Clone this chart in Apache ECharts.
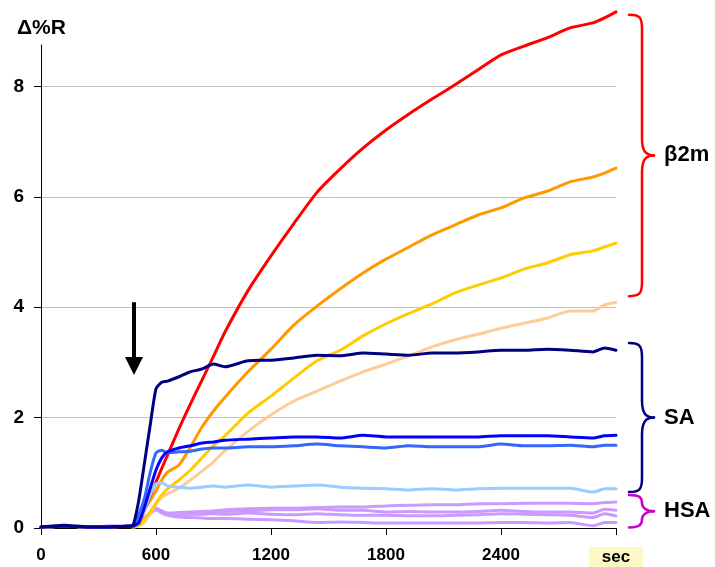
<!DOCTYPE html>
<html>
<head>
<meta charset="utf-8">
<script src="https://cdn.jsdelivr.net/npm/echarts@6/dist/echarts.min.js"></script>
<style>
  html, body { margin: 0; padding: 0; background: #fff; }
  #chart { width: 715px; height: 567px; }
</style>
</head>
<body>
<div id="chart"></div>
<script>
// Time points (s)
const times = [0, 120, 240, 360, 450, 480, 510, 540, 570, 600, 630, 660, 720, 780, 840, 900, 960,
  1080, 1200, 1320, 1440, 1560, 1680, 1800, 1920, 2040, 2160, 2280, 2400, 2520, 2640, 2760, 2880, 2940, 3000];

// Tick labels along the time axis (the last one stands for the unit)
const xTickValues = [0, 600, 1200, 1800, 2400, 3000];
const xTickLabels = ['0', '600', '1200', '1800', '2400', 'sec'];
const yTickValues = [0, 2, 4, 6, 8];

// β2m responses
const b2mA = [0.02, 0.03, 0.02, 0.02, 0.03, 0.05, 0.08, 0.33, 0.58, 0.83, 1.08, 1.32, 1.80, 2.25, 2.68, 3.11, 3.55,
  4.30, 4.93, 5.52, 6.08, 6.50, 6.88, 7.21, 7.50, 7.77, 8.03, 8.30, 8.57, 8.73, 8.88, 9.06, 9.15, 9.24, 9.35];
const b2mB = [0.02, 0.03, 0.02, 0.02, 0.03, 0.03, 0.10, 0.33, 0.50, 0.67, 0.87, 1.01, 1.14, 1.47, 1.83, 2.12, 2.37,
  2.83, 3.24, 3.68, 4.02, 4.33, 4.62, 4.87, 5.09, 5.31, 5.49, 5.67, 5.80, 5.98, 6.10, 6.27, 6.36, 6.43, 6.52];
const b2mC = [0.02, 0.03, 0.02, 0.02, 0.03, 0.02, 0.05, 0.15, 0.29, 0.45, 0.60, 0.71, 0.87, 1.05, 1.27, 1.49, 1.67,
  2.08, 2.39, 2.72, 3.03, 3.22, 3.48, 3.70, 3.89, 4.06, 4.26, 4.40, 4.53, 4.69, 4.80, 4.95, 5.02, 5.09, 5.16];
const b2mD = [0.02, 0.03, 0.02, 0.02, 0.03, 0.02, 0.04, 0.10, 0.27, 0.43, 0.56, 0.62, 0.72, 0.87, 1.03, 1.20, 1.40,
  1.75, 2.05, 2.30, 2.48, 2.66, 2.83, 2.97, 3.12, 3.28, 3.41, 3.51, 3.62, 3.71, 3.80, 3.93, 3.93, 4.04, 4.09];

// SA responses
const saA = [0.02, 0.05, 0.02, 0.02, 0.03, 0.05, 0.50, 1.18, 1.87, 2.52, 2.64, 2.66, 2.74, 2.83, 2.88, 2.97, 2.92,
  3.03, 3.04, 3.08, 3.13, 3.12, 3.17, 3.15, 3.13, 3.17, 3.17, 3.19, 3.22, 3.22, 3.24, 3.22, 3.19, 3.26, 3.22];
const saB = [0.02, 0.03, 0.02, 0.02, 0.03, 0.03, 0.10, 0.38, 0.72, 1.05, 1.27, 1.38, 1.45, 1.49, 1.54, 1.56, 1.59,
  1.61, 1.63, 1.65, 1.65, 1.63, 1.68, 1.65, 1.65, 1.65, 1.65, 1.65, 1.67, 1.67, 1.67, 1.65, 1.63, 1.67, 1.68];
const saC = [0.02, 0.03, 0.02, 0.02, 0.03, 0.03, 0.24, 0.54, 1.01, 1.36, 1.41, 1.36, 1.38, 1.39, 1.43, 1.45, 1.45,
  1.47, 1.47, 1.49, 1.52, 1.49, 1.47, 1.45, 1.49, 1.47, 1.47, 1.47, 1.52, 1.49, 1.49, 1.50, 1.47, 1.50, 1.50];
const saD = [0.02, 0.03, 0.02, 0.02, 0.03, 0.03, 0.10, 0.33, 0.60, 0.80, 0.82, 0.76, 0.74, 0.72, 0.74, 0.76, 0.74,
  0.78, 0.74, 0.76, 0.78, 0.74, 0.72, 0.71, 0.69, 0.71, 0.69, 0.71, 0.72, 0.72, 0.72, 0.72, 0.65, 0.71, 0.71];

// HSA responses
const hsaA = [0.02, 0.03, 0.02, 0.03, 0.03, 0.04, 0.08, 0.18, 0.28, 0.36, 0.31, 0.27, 0.28, 0.29, 0.30, 0.31, 0.33,
  0.35, 0.36, 0.36, 0.37, 0.38, 0.38, 0.40, 0.41, 0.42, 0.42, 0.44, 0.44, 0.45, 0.45, 0.45, 0.44, 0.46, 0.47];
const hsaB = [0.02, 0.03, 0.02, 0.03, 0.03, 0.04, 0.08, 0.18, 0.28, 0.35, 0.30, 0.26, 0.27, 0.28, 0.29, 0.28, 0.30,
  0.31, 0.33, 0.33, 0.35, 0.32, 0.32, 0.29, 0.30, 0.29, 0.29, 0.30, 0.32, 0.30, 0.29, 0.29, 0.27, 0.34, 0.32];
const hsaC = [0.02, 0.03, 0.02, 0.03, 0.03, 0.04, 0.08, 0.17, 0.27, 0.34, 0.29, 0.25, 0.24, 0.25, 0.25, 0.26, 0.25,
  0.27, 0.25, 0.24, 0.26, 0.24, 0.23, 0.23, 0.22, 0.22, 0.23, 0.24, 0.26, 0.25, 0.24, 0.23, 0.19, 0.26, 0.22];
const hsaD = [0.02, 0.03, 0.02, 0.03, 0.03, 0.04, 0.07, 0.16, 0.26, 0.33, 0.27, 0.23, 0.20, 0.19, 0.18, 0.17, 0.17,
  0.16, 0.15, 0.13, 0.10, 0.11, 0.10, 0.09, 0.09, 0.09, 0.09, 0.09, 0.10, 0.10, 0.09, 0.10, 0.04, 0.10, 0.10];

// Drawing order: bottom group first so the SA curves sit on top
const seriesDefs = [
  { name: 'HSA 1', data: hsaA, color: '#cc99ff' },
  { name: 'HSA 2', data: hsaB, color: '#cc99ff' },
  { name: 'HSA 3', data: hsaC, color: '#cc99ff' },
  { name: 'HSA 4', data: hsaD, color: '#cc99ff' },
  { name: 'β2m 4', data: b2mD, color: '#ffcc99' },
  { name: 'β2m 3', data: b2mC, color: '#ffcc00' },
  { name: 'β2m 2', data: b2mB, color: '#ff9900' },
  { name: 'β2m 1', data: b2mA, color: '#ff0000' },
  { name: 'SA 4', data: saD, color: '#99ccff' },
  { name: 'SA 3', data: saC, color: '#3366ff' },
  { name: 'SA 2', data: saB, color: '#0000ff' },
  { name: 'SA 1', data: saA, color: '#000080' }
];

const FONT = '"Liberation Sans", Arial, sans-serif';

const chart = echarts.init(document.getElementById('chart'), null, { renderer: 'canvas' });

chart.setOption({
  backgroundColor: '#ffffff',
  animation: false,
  title: {
    text: 'Δ%R',
    left: 12, top: 13,
    textStyle: { fontFamily: FONT, fontWeight: 'bold', fontSize: 21, color: '#000' }
  },
  grid: { left: 41, right: 99, top: 45, bottom: 39, containLabel: false, outerBoundsMode: 'none' },
  xAxis: {
    type: 'value',
    min: 0, max: 3000, interval: 600,
    axisLine: { show: true, lineStyle: { color: '#000', width: 1 } },
    axisTick: { show: true, inside: false, length: 7, lineStyle: { color: '#000' } },
    splitLine: { show: false },
    axisLabel: {
      margin: 19,
      fontFamily: FONT, fontWeight: 'bold', fontSize: 17, color: '#000',
      formatter: function (v) {
        const i = xTickValues.indexOf(v);
        if (i < 0) return '';
        return v === 3000 ? '{unit|' + xTickLabels[i] + '}' : xTickLabels[i];
      },
      rich: {
        unit: {
          fontFamily: FONT, fontWeight: 'bold', fontSize: 17, color: '#000',
          backgroundColor: '#fdf9c6',
          padding: [2, 13, 10, 13]
        }
      }
    }
  },
  yAxis: {
    type: 'value',
    min: 0, max: 8.75, interval: 2,
    axisLine: { show: true, lineStyle: { color: '#000', width: 1 } },
    axisTick: { show: true, inside: false, length: 7, lineStyle: { color: '#000' } },
    splitLine: { show: true, showMinLine: false, showMaxLine: false, lineStyle: { color: '#c0c0c0', width: 1 } },
    axisLabel: {
      margin: 17,
      showMaxLabel: false,
      fontFamily: FONT, fontWeight: 'bold', fontSize: 19, color: '#000',
      formatter: function (v) { return yTickValues.indexOf(v) >= 0 ? String(v) : ''; }
    }
  },
  series: seriesDefs.map(function (s) {
    return {
      name: s.name,
      type: 'line',
      clip: false,
      showSymbol: false,
      smooth: 0.2,
      data: times.map(function (t, i) { return [t, s.data[i]]; }),
      lineStyle: { color: s.color, width: 3, cap: 'round', join: 'round' },
      itemStyle: { color: s.color },
      emphasis: { disabled: true }
    };
  })
});

// Annotations: injection arrow and group braces, placed through the axes
function px(x, y) { return chart.convertToPixel({ gridIndex: 0 }, [x, y]); }

function curve(p1, c1, c2, p2, color) {
  return {
    type: 'bezierCurve',
    shape: { x1: p1[0], y1: p1[1], cpx1: c1[0], cpy1: c1[1], cpx2: c2[0], cpy2: c2[1], x2: p2[0], y2: p2[1] },
    style: { fill: null, stroke: color, lineWidth: 2.5, lineCap: 'round' },
    silent: true
  };
}
function seg(p1, p2, color) {
  return {
    type: 'line',
    shape: { x1: p1[0], y1: p1[1], x2: p2[0], y2: p2[1] },
    style: { stroke: color, lineWidth: 2.5 },
    silent: true
  };
}

function brace(yTopVal, yBotVal, color, label) {
  const right = px(3000, 0)[0];
  const yt = px(0, yTopVal)[1];
  const yb = px(0, yBotVal)[1];
  const ym = (yt + yb) / 2;
  const x0 = right + 13, x1 = right + 26, x2 = right + 38;
  const r = Math.min(14, (yb - yt) / 4), rm = Math.min(17, (yb - yt) / 4);
  return [
    curve([x0, yt], [x1 - 2, yt], [x1, yt + 3], [x1, yt + r], color),
    seg([x1, yt + r], [x1, ym - rm], color),
    curve([x1, ym - rm], [x1, ym - 4], [x1 + 4, ym], [x2, ym], color),
    curve([x2, ym], [x1 + 4, ym], [x1, ym + 4], [x1, ym + rm], color),
    seg([x1, ym + rm], [x1, yb - r], color),
    curve([x1, yb - r], [x1, yb - 3], [x1 - 2, yb], [x0, yb], color),
    {
      type: 'text',
      x: right + 48, y: ym,
      style: {
        text: label, fill: '#000', font: 'bold 22px ' + FONT,
        verticalAlign: 'middle'
      },
      silent: true
    }
  ];
}

const arrowTop = px(485, 4.09);
const arrowTip = px(485, 2.77);
const ax = Math.round(arrowTop[0]);

chart.setOption({
  graphic: [
    {
      type: 'rect',
      shape: { x: ax - 2, y: arrowTop[1], width: 4, height: arrowTip[1] - arrowTop[1] - 16 },
      style: { fill: '#000' }, silent: true
    },
    {
      type: 'polygon',
      shape: { points: [[ax - 9, arrowTip[1] - 18], [ax + 9, arrowTip[1] - 18], [ax, arrowTip[1]]] },
      style: { fill: '#000' }, silent: true
    }
  ].concat(
    brace(9.3, 4.2, '#ff0000', 'β2m'),
    brace(3.35, 0.65, '#000080', 'SA'),
    brace(0.6, 0.01, '#cc00cc', 'HSA')
  )
});
</script>
</body>
</html>
